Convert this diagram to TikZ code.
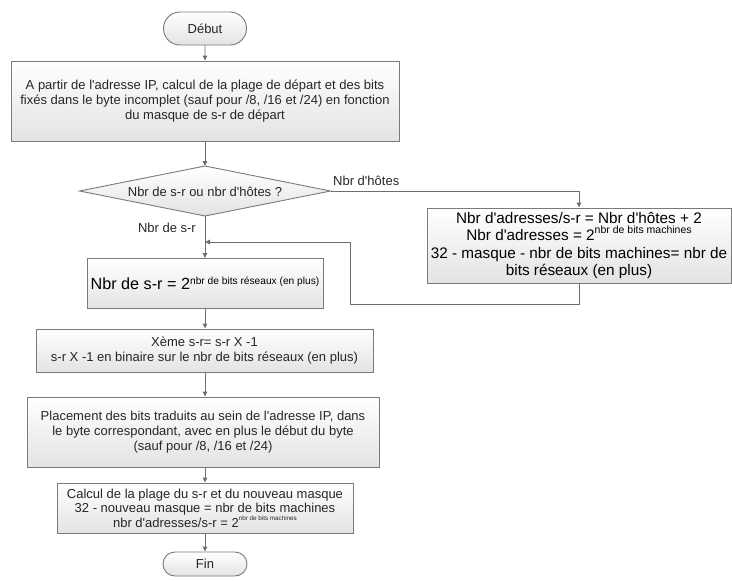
\documentclass[tikz,border=0pt]{standalone}
\usepackage{fontspec}
\setmainfont{Liberation Sans}[Ligatures=TeXOff]
\usetikzlibrary{arrows.meta,shapes.misc}
\definecolor{ln}{HTML}{6E6E6E}
\definecolor{bd}{HTML}{7A7A7A}
\definecolor{tx}{HTML}{262626}
\begin{document}
\begin{tikzpicture}[x=1pt,y=-1pt,
 proc/.style={draw=bd,line width=0.9pt,top color=white,bottom color=black!11,text=tx,align=center,inner sep=0pt},
 term/.style={proc,rounded rectangle},
 flow/.style={draw=ln,line width=0.9pt,-{Triangle[length=5pt,width=4.5pt]}},
 lbl/.style={text=tx,font=\fontsize{13}{15}\selectfont,inner sep=0pt}]
\useasboundingbox (0,0) rectangle (732,581);
\node[term,minimum width=83pt,minimum height=33pt,font=\fontsize{13}{15}\selectfont] (debut) at (205,28.5) {Début};
\node[proc,minimum width=388pt,minimum height=80pt,font=\fontsize{13}{15}\selectfont] (b1) at (205,101) {A partir de l'adresse IP, calcul de la plage de départ et des bits\\fixés dans le byte incomplet (sauf pour /8, /16 et /24) en fonction\\du masque de s-r de départ};
\coordinate (dt) at (205,166);
\coordinate (db) at (205,216);
\coordinate (dl) at (79.5,191);
\coordinate (dr) at (330.5,191);
\draw[proc] (dl) -- (dt) -- (dr) -- (db) -- cycle;
\node[text=tx,font=\fontsize{13}{15}\selectfont,inner sep=0pt] (dq) at (205,191.5) {Nbr de s-r ou nbr d'hôtes ?};
\node[proc,text=black,minimum width=304pt,minimum height=75pt,font=\fontsize{15.3}{17.5}\selectfont] (b2) at (579,245.5) {Nbr d'adresses/s-r = Nbr d'hôtes + 2\\Nbr d'adresses = 2\raisebox{0.45em}{\fontsize{10.5}{11}\selectfont nbr de bits machines}\\32 - masque - nbr de bits machines= nbr de\\bits réseaux (en plus)};
\node[proc,text=black,minimum width=236pt,minimum height=50pt] (b3) at (205,283.5) {{\fontsize{16.2}{18}\selectfont Nbr de s-r = 2}\raisebox{0.55em}{\fontsize{10.2}{11}\selectfont nbr de bits réseaux (en plus)}};
\node[proc,minimum width=337pt,minimum height=43pt,font=\fontsize{13}{15}\selectfont] (b4) at (204.5,350.5) {Xème s-r= s-r X -1\\s-r X -1 en binaire sur le nbr de bits réseaux (en plus)};
\node[proc,minimum width=352pt,minimum height=70pt,font=\fontsize{13}{15}\selectfont] (b5) at (203,432) {Placement des bits traduits au sein de l'adresse IP, dans\\le byte correspondant, avec en plus le début du byte\\(sauf pour /8, /16 et /24)};
\node[proc,minimum width=296pt,minimum height=50pt,font=\fontsize{13}{14.5}\selectfont] (b6) at (205,508) {Calcul de la plage du s-r et du nouveau masque\\32 - nouveau masque = nbr de bits machines\\nbr d'adresses/s-r = 2\raisebox{0.55em}{\fontsize{6.3}{7}\selectfont nbr de bits machines}};
\node[term,minimum width=84pt,minimum height=24pt,font=\fontsize{13}{15}\selectfont] (fin) at (205,564) {Fin};
\coordinate (j) at (205,242);
\coordinate (c1) at (579,191);
\coordinate (c2) at (579,304);
\coordinate (c3) at (350,304);
\coordinate (c4) at (350,242);
\draw[flow] (debut) -- (b1);
\draw[flow] (b1) -- (dt);
\draw[flow] (dr) -- (c1) -- (b2);
\draw[flow] (db) -- (b3);
\draw[flow] (b2) -- (c2) -- (c3) -- (c4) -- (j);
\draw[flow] (b3.south) -- (b4.north -| b3.south);
\draw[flow] (b4.south -| b3.south) -- (b5.north -| b3.south);
\draw[flow] (b5.south -| b3.south) -- (b6.north);
\draw[flow] (b6) -- (fin);
\node[lbl,anchor=base west] (lh) at (333,185) {Nbr d'hôtes};
\node[lbl,anchor=base east] (ls) at (196,232) {Nbr de s-r};
\end{tikzpicture}
\end{document}
